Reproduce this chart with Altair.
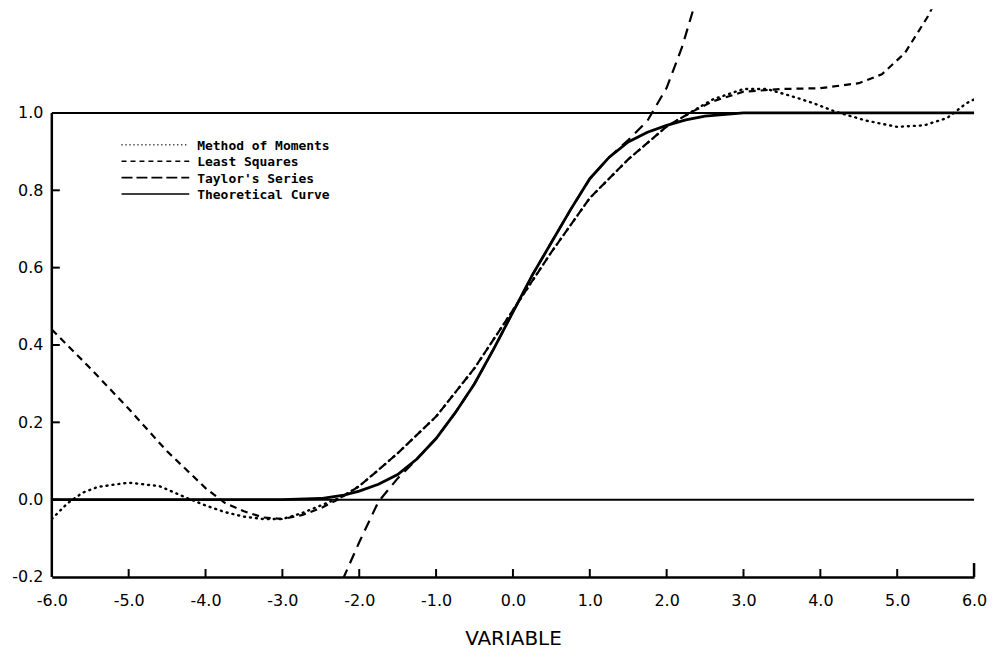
import altair as alt
import pandas as pd

# ---- data ----
X_TICKS = [-6.0, -5.0, -4.0, -3.0, -2.0, -1.0, 0.0, 1.0, 2.0, 3.0, 4.0, 5.0, 6.0]
Y_TICKS = [-0.2, 0.0, 0.2, 0.4, 0.6, 0.8, 1.0]
REF_LINES = [0.0, 1.0]

SERIES = ["Method of Moments", "Least Squares", "Taylor's Series", "Theoretical Curve"]

TH_X = [-6.0, -3.0, -2.5, -2.2, -2.0, -1.75, -1.5, -1.25, -1.0, -0.75, -0.5, -0.25, 0.0,
        0.25, 0.5, 0.75, 1.0, 1.25, 1.5, 1.75, 2.0, 2.25, 2.5, 3.0, 6.0]
TH_Y = [0.0, 0.0, 0.003, 0.012, 0.022, 0.04, 0.065, 0.105, 0.158, 0.225, 0.30, 0.39, 0.485,
        0.58, 0.665, 0.75, 0.83, 0.885, 0.925, 0.95, 0.968, 0.982, 0.992, 1.0, 1.0]

LS_X = [-6.0, -5.5, -5.0, -4.5, -4.0, -3.75, -3.5, -3.25, -3.0, -2.75, -2.5, -2.25, -2.0,
        -1.75, -1.5, -1.0, -0.5, 0.0, 0.5, 1.0, 1.5, 2.0, 2.3, 2.6, 3.0, 3.5, 4.0, 4.5,
        4.8, 5.1, 5.4, 5.6]
LS_Y = [0.44, 0.34, 0.235, 0.125, 0.03, -0.008, -0.03, -0.046, -0.05, -0.04, -0.022, 0.003,
        0.035, 0.077, 0.12, 0.215, 0.34, 0.49, 0.64, 0.78, 0.88, 0.965, 1.0, 1.03, 1.055,
        1.062, 1.064, 1.077, 1.10, 1.155, 1.25, 1.33]

MM_X = [-6.0, -5.8, -5.6, -5.4, -5.0, -4.6, -4.25, -4.0, -3.75, -3.5, -3.25, -3.0, -2.75,
        -2.5, -2.25, -2.0, -1.75, -1.5, -1.0, -0.5, 0.0, 0.5, 1.0, 1.5, 2.0, 2.3, 2.6, 3.0,
        3.3, 3.6, 3.9, 4.2, 4.6, 5.0, 5.35, 5.65, 5.9, 6.0]
MM_Y = [-0.05, -0.01, 0.018, 0.033, 0.044, 0.035, 0.005, -0.015, -0.032, -0.044, -0.05,
        -0.05, -0.035, -0.015, 0.005, 0.035, 0.077, 0.12, 0.215, 0.34, 0.49, 0.64, 0.78,
        0.88, 0.965, 1.0, 1.035, 1.062, 1.062, 1.045, 1.026, 1.003, 0.98, 0.964, 0.968,
        0.987, 1.025, 1.035]

TS_X = [-2.3, -2.2, -2.0, -1.75, -1.5, -1.25, -1.0, -0.75, -0.5, -0.25, 0.0, 0.25, 0.5,
        0.75, 1.0, 1.25, 1.5, 1.75, 2.0, 2.2, 2.35, 2.45]
TS_Y = [-0.25, -0.2, -0.11, -0.005, 0.055, 0.105, 0.158, 0.225, 0.30, 0.39, 0.485, 0.58,
        0.665, 0.75, 0.83, 0.885, 0.93, 0.98, 1.065, 1.17, 1.27, 1.33]

# ---- layout / style ----
W, H = 926, 570
Y_TOP = 1.268
FONT_AX = "DejaVu Sans"
FONT_LEG = "DejaVu Sans Mono"
LABEL_EXPR = "(datum.value < 0 ? '-' : '') + format(abs(datum.value), '.1f')"

xs = alt.Scale(domain=[X_TICKS[0], X_TICKS[-1]], nice=False, zero=False, padding=0)
ys = alt.Scale(domain=[Y_TICKS[0], Y_TOP], nice=False, zero=False, padding=0)


def line_layer(xv, yv, dash, width, cap="butt"):
    df = pd.DataFrame({"x": xv, "y": yv, "i": list(range(len(xv)))})
    kw = dict(color="black", strokeWidth=width, clip=True, strokeCap=cap)
    if dash:
        kw["strokeDash"] = dash
    return alt.Chart(df).mark_line(**kw).encode(
        x=alt.X("x:Q", scale=xs),
        y=alt.Y("y:Q", scale=ys),
        order=alt.Order("i:Q"),
    )


# main axes layer (carries axes)
axes_df = pd.DataFrame({"x": [X_TICKS[0]], "y": [Y_TICKS[0]]})
base = alt.Chart(axes_df).mark_point(opacity=0).encode(
    x=alt.X("x:Q", scale=xs, title="VARIABLE",
            axis=alt.Axis(values=X_TICKS, labelExpr=LABEL_EXPR, ticks=False, grid=False,
                          domain=True, domainColor="black", domainWidth=2.5,
                          labelFont=FONT_AX, labelFontSize=16, labelColor="black",
                          labelPadding=16, labelFlush=False,
                          titleFont=FONT_AX, titleFontSize=20, titleFontWeight="normal",
                          titleColor="black", titlePadding=20)),
    y=alt.Y("y:Q", scale=ys, title=None,
            axis=alt.Axis(values=Y_TICKS, labelExpr=LABEL_EXPR, ticks=False, grid=False,
                          domain=False, labelFont=FONT_AX, labelFontSize=16,
                          labelColor="black", labelPadding=9, labelFlush=False)),
)

ref_df = pd.DataFrame({"y": REF_LINES, "x1": [X_TICKS[0]] * 2, "x2": [X_TICKS[-1]] * 2})
refs = alt.Chart(ref_df).mark_rule(color="black", strokeWidth=2).encode(
    y=alt.Y("y:Q", scale=ys), x=alt.X("x1:Q", scale=xs), x2="x2:Q")

left_df = pd.DataFrame({"x": [X_TICKS[0]], "y1": [Y_TICKS[0]], "y2": [Y_TICKS[-1]]})
left_axis = alt.Chart(left_df).mark_rule(color="black", strokeWidth=2.5).encode(
    x=alt.X("x:Q", scale=xs), y=alt.Y("y1:Q", scale=ys), y2="y2:Q")

yt_df = pd.DataFrame({"v": Y_TICKS[1:-1]})
y_ticks = alt.Chart(yt_df).mark_rule(color="black", strokeWidth=2).encode(
    y=alt.Y("v:Q", scale=ys), x=alt.value(0), x2=alt.value(8))

xt_df = pd.DataFrame({"v": X_TICKS[1:-1]})
x_ticks = alt.Chart(xt_df).mark_rule(color="black", strokeWidth=2).encode(
    x=alt.X("v:Q", scale=xs), y=alt.value(H), y2=alt.value(H - 8))
xt_end = pd.DataFrame({"v": [X_TICKS[-1]]})
x_tick_end = alt.Chart(xt_end).mark_rule(color="black", strokeWidth=2.5).encode(
    x=alt.X("v:Q", scale=xs), y=alt.value(H), y2=alt.value(H - 14))

mm = line_layer(MM_X, MM_Y, [1, 5], 2.4, cap="round")
ls = line_layer(LS_X, LS_Y, [7, 5], 2.2)
ts = line_layer(TS_X, TS_Y, [11, 7], 2.2)
th = line_layer(TH_X, TH_Y, None, 2.8)

# legend (manual)
LEG_DASH = [[1, 3], [5, 4], [11, 4], None]
LEG_X0, LEG_X1, LEG_TX = 70, 138, 146
LEG_Y0, LEG_DY = 136, 16.5
legend_layers = []
one = alt.Data(values=[{"a": 1}])
for i, name in enumerate(SERIES):
    yy = LEG_Y0 + i * LEG_DY
    kw = dict(color="black", strokeWidth=1.6)
    if LEG_DASH[i]:
        kw["strokeDash"] = LEG_DASH[i]
    legend_layers.append(
        alt.Chart(one).mark_rule(**kw).encode(
            x=alt.value(LEG_X0), x2=alt.value(LEG_X1), y=alt.value(yy)))
    legend_layers.append(
        alt.Chart(one).mark_text(align="left", baseline="middle", font=FONT_LEG,
                                 fontSize=13, fontWeight="bold", color="black").encode(
            x=alt.value(LEG_TX), y=alt.value(yy + 1), text=alt.value(name)))

chart = alt.layer(
    base, refs, left_axis, y_ticks, x_ticks, x_tick_end, mm, ls, ts, th, *legend_layers
).properties(
    width=W, height=H,
    autosize=alt.AutoSizeParams(type="none"),
    padding={"left": 44, "top": 0, "right": 15, "bottom": 81},
).configure(background="white").configure_view(stroke=None, strokeWidth=0)

chart.save("out.html", embed_options={"renderer": "svg", "actions": False})
